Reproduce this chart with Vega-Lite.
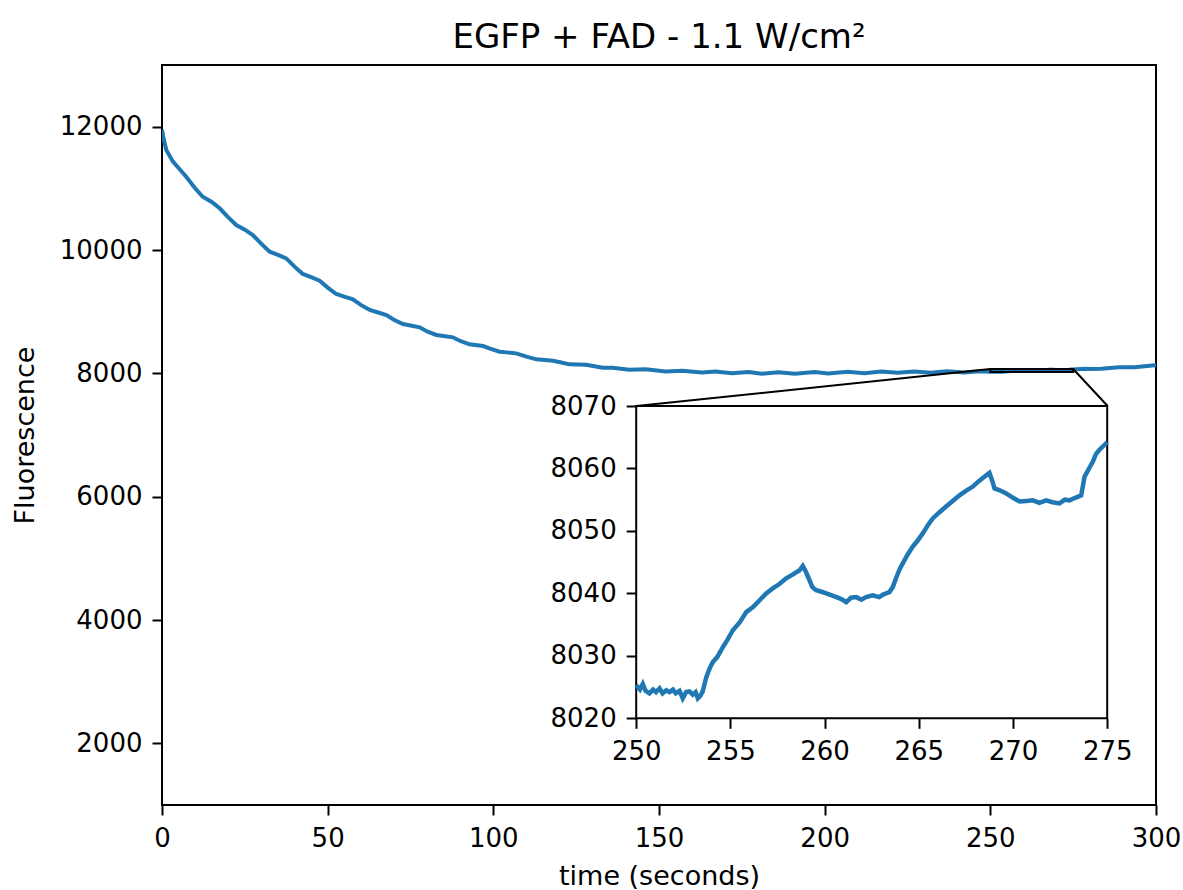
{
  "$schema": "https://vega.github.io/schema/vega-lite/v6.json",
  "width": 994,
  "height": 740,
  "autosize": "none",
  "padding": {"left": 162, "top": 65, "right": 27, "bottom": 85},
  "background": "white",
  "config": {
    "font": "DejaVu Sans",
    "view": {"stroke": "black", "strokeWidth": 2},
    "axis": {
      "grid": false,
      "domain": false,
      "format": "d",
      "tickColor": "black",
      "tickWidth": 2,
      "tickSize": 10,
      "labelColor": "black",
      "labelFont": "DejaVu Sans",
      "labelFontSize": 26,
      "labelFlush": false,
      "labelBound": false,
      "labelOverlap": false,
      "titleColor": "black",
      "titleFont": "DejaVu Sans",
      "titleFontSize": 27,
      "titleFontWeight": "normal"
    }
  },
  "title": {"text": "EGFP + FAD - 1.1 W/cm²", "fontSize": 34, "font": "DejaVu Sans", "fontWeight": "normal", "color": "black", "offset": 10, "anchor": "middle"},
  "data": {"values": [
    {"t": 0, "v": 11950}, {"t": 0.5, "v": 11800}, {"t": 1.3, "v": 11622}, {"t": 3.3, "v": 11432}, {"t": 5, "v": 11330},
    {"t": 7.3, "v": 11189}, {"t": 10, "v": 11000}, {"t": 12.3, "v": 10864}, {"t": 15, "v": 10780}, {"t": 17.4, "v": 10676},
    {"t": 20, "v": 10530}, {"t": 22.4, "v": 10405}, {"t": 25, "v": 10330}, {"t": 27.4, "v": 10243}, {"t": 30, "v": 10100},
    {"t": 32.5, "v": 9973}, {"t": 35, "v": 9920}, {"t": 37.5, "v": 9865}, {"t": 40, "v": 9730}, {"t": 42.5, "v": 9611},
    {"t": 45, "v": 9560}, {"t": 47.6, "v": 9503}, {"t": 50, "v": 9390}, {"t": 52.6, "v": 9286}, {"t": 55, "v": 9245},
    {"t": 57.6, "v": 9200}, {"t": 60, "v": 9110}, {"t": 62.7, "v": 9027}, {"t": 65, "v": 8990}, {"t": 67.7, "v": 8946},
    {"t": 70, "v": 8870}, {"t": 72.7, "v": 8800}, {"t": 75, "v": 8775}, {"t": 77.8, "v": 8746}, {"t": 80, "v": 8680},
    {"t": 82.8, "v": 8622}, {"t": 85, "v": 8605}, {"t": 87.8, "v": 8584}, {"t": 90, "v": 8525}, {"t": 92.8, "v": 8470},
    {"t": 96.9, "v": 8443}, {"t": 99, "v": 8400}, {"t": 101.9, "v": 8351}, {"t": 104, "v": 8340}, {"t": 106.9, "v": 8324},
    {"t": 110, "v": 8270}, {"t": 113, "v": 8227}, {"t": 115.5, "v": 8215}, {"t": 118, "v": 8205}, {"t": 120.5, "v": 8175},
    {"t": 123, "v": 8146}, {"t": 128, "v": 8140}, {"t": 130.5, "v": 8115}, {"t": 133, "v": 8092}, {"t": 136, "v": 8090},
    {"t": 141, "v": 8058}, {"t": 146, "v": 8065}, {"t": 152, "v": 8030}, {"t": 157, "v": 8040}, {"t": 163, "v": 8012},
    {"t": 167, "v": 8030}, {"t": 172, "v": 8000}, {"t": 177, "v": 8020}, {"t": 181, "v": 7992}, {"t": 186, "v": 8018},
    {"t": 191, "v": 7992}, {"t": 197, "v": 8020}, {"t": 201, "v": 7998}, {"t": 207, "v": 8025}, {"t": 212, "v": 8000},
    {"t": 217, "v": 8030}, {"t": 222, "v": 8008}, {"t": 227, "v": 8030}, {"t": 232, "v": 8010}, {"t": 237, "v": 8032},
    {"t": 242, "v": 8015}, {"t": 246, "v": 8030}, {"t": 248.8, "v": 8028}, {"t": 249.5, "v": 8025.8},
    {"t": 250.0, "v": 8025.3}, {"t": 250.2, "v": 8024.6}, {"t": 250.35, "v": 8025.5}, {"t": 250.5, "v": 8024.4},
    {"t": 250.7, "v": 8024.0}, {"t": 250.9, "v": 8024.6}, {"t": 251.05, "v": 8024.2}, {"t": 251.24, "v": 8024.8},
    {"t": 251.4, "v": 8024.0}, {"t": 251.6, "v": 8024.5}, {"t": 251.77, "v": 8024.2}, {"t": 251.95, "v": 8024.6},
    {"t": 252.1, "v": 8024.0}, {"t": 252.3, "v": 8024.4}, {"t": 252.47, "v": 8023.2}, {"t": 252.65, "v": 8024.2},
    {"t": 252.83, "v": 8024.3}, {"t": 253.0, "v": 8023.8}, {"t": 253.15, "v": 8024.2}, {"t": 253.27, "v": 8023.2},
    {"t": 253.4, "v": 8023.6}, {"t": 253.53, "v": 8024.3}, {"t": 253.72, "v": 8026.6}, {"t": 253.9, "v": 8028.0},
    {"t": 254.07, "v": 8029.0}, {"t": 254.3, "v": 8029.8}, {"t": 254.6, "v": 8031.4}, {"t": 254.85, "v": 8032.6},
    {"t": 255.13, "v": 8034.1}, {"t": 255.5, "v": 8035.4}, {"t": 255.84, "v": 8037.0}, {"t": 256.2, "v": 8037.8},
    {"t": 256.55, "v": 8038.9}, {"t": 256.9, "v": 8040.0}, {"t": 257.25, "v": 8040.8}, {"t": 257.6, "v": 8041.5},
    {"t": 257.96, "v": 8042.4}, {"t": 258.3, "v": 8043.0}, {"t": 258.67, "v": 8043.7}, {"t": 258.84, "v": 8044.4},
    {"t": 259.0, "v": 8043.5}, {"t": 259.2, "v": 8042.1}, {"t": 259.35, "v": 8041.0}, {"t": 259.55, "v": 8040.5},
    {"t": 259.8, "v": 8040.3}, {"t": 260.09, "v": 8040.0}, {"t": 260.45, "v": 8039.6}, {"t": 260.8, "v": 8039.2},
    {"t": 261.0, "v": 8038.9}, {"t": 261.15, "v": 8038.6}, {"t": 261.4, "v": 8039.3}, {"t": 261.68, "v": 8039.4},
    {"t": 261.95, "v": 8039.0}, {"t": 262.2, "v": 8039.4}, {"t": 262.55, "v": 8039.7}, {"t": 262.9, "v": 8039.4},
    {"t": 263.1, "v": 8039.8}, {"t": 263.27, "v": 8040.0}, {"t": 263.44, "v": 8040.2}, {"t": 263.62, "v": 8041.0},
    {"t": 263.8, "v": 8042.5}, {"t": 264.0, "v": 8044.0}, {"t": 264.15, "v": 8044.8}, {"t": 264.4, "v": 8046.2},
    {"t": 264.68, "v": 8047.5}, {"t": 264.95, "v": 8048.5}, {"t": 265.21, "v": 8049.6}, {"t": 265.5, "v": 8051.0},
    {"t": 265.74, "v": 8052.0}, {"t": 266.1, "v": 8053.0}, {"t": 266.45, "v": 8053.9}, {"t": 266.8, "v": 8054.8},
    {"t": 267.16, "v": 8055.7}, {"t": 267.5, "v": 8056.4}, {"t": 267.87, "v": 8057.1}, {"t": 268.2, "v": 8058.0},
    {"t": 268.58, "v": 8058.9}, {"t": 268.75, "v": 8059.3}, {"t": 268.9, "v": 8058.0}, {"t": 269.02, "v": 8056.8},
    {"t": 269.3, "v": 8056.5}, {"t": 269.64, "v": 8056.0}, {"t": 270.0, "v": 8055.3}, {"t": 270.35, "v": 8054.7},
    {"t": 270.7, "v": 8054.8}, {"t": 271.05, "v": 8054.9}, {"t": 271.4, "v": 8054.5}, {"t": 271.76, "v": 8054.9},
    {"t": 272.1, "v": 8054.6}, {"t": 272.47, "v": 8054.4}, {"t": 272.75, "v": 8055.0}, {"t": 273.0, "v": 8054.9},
    {"t": 273.3, "v": 8055.3}, {"t": 273.62, "v": 8055.7}, {"t": 273.8, "v": 8058.7}, {"t": 274.0, "v": 8059.8},
    {"t": 274.24, "v": 8061.1}, {"t": 274.4, "v": 8062.3}, {"t": 274.59, "v": 8063.0}, {"t": 274.8, "v": 8063.6},
    {"t": 275.0, "v": 8064.2}, {"t": 276, "v": 8067}, {"t": 278.8, "v": 8075},
    {"t": 280, "v": 8072}, {"t": 283.5, "v": 8074}, {"t": 288.8, "v": 8100}, {"t": 290, "v": 8097},
    {"t": 293.5, "v": 8100}, {"t": 298.8, "v": 8128}, {"t": 300, "v": 8132}
  ]},
  "layer": [
    {
      "layer": [
        {
          "mark": {"type": "line", "color": "#1f77b4", "strokeWidth": 4, "clip": true},
          "encoding": {
            "x": {"field": "t", "type": "quantitative", "scale": {"domain": [0, 300], "nice": false, "zero": false},
                  "axis": {"orient": "bottom", "values": [0, 50, 100, 150, 200, 250, 300], "title": "time (seconds)", "labelPadding": 10, "titlePadding": 12}},
            "y": {"field": "v", "type": "quantitative", "scale": {"domain": [1000, 13000], "nice": false, "zero": false},
                  "axis": {"orient": "left", "values": [2000, 4000, 6000, 8000, 10000, 12000], "title": "Fluorescence", "labelPadding": 10, "titlePadding": 20}}
          }
        },
        {
          "data": {"values": [{}]},
          "mark": {"type": "rect", "fill": null, "fillOpacity": 0, "stroke": "black", "strokeWidth": 2},
          "encoding": {
            "x": {"datum": 250, "type": "quantitative", "axis": {"orient": "bottom", "values": [0, 50, 100, 150, 200, 250, 300], "title": "time (seconds)", "labelPadding": 10, "titlePadding": 12}},
            "x2": {"datum": 275},
            "y": {"datum": 8020, "type": "quantitative", "axis": {"orient": "left", "values": [2000, 4000, 6000, 8000, 10000, 12000], "title": "Fluorescence", "labelPadding": 10, "titlePadding": 20}},
            "y2": {"datum": 8070}
          }
        },
        {
          "data": {"values": [{}]},
          "mark": {"type": "rule", "color": "black", "strokeWidth": 2},
          "encoding": {
            "x": {"datum": 250, "type": "quantitative", "axis": {"orient": "bottom", "values": [0, 50, 100, 150, 200, 250, 300], "title": "time (seconds)", "labelPadding": 10, "titlePadding": 12}},
            "x2": {"datum": 143.2},
            "y": {"datum": 8070, "type": "quantitative", "axis": {"orient": "left", "values": [2000, 4000, 6000, 8000, 10000, 12000], "title": "Fluorescence", "labelPadding": 10, "titlePadding": 20}},
            "y2": {"datum": 7470}
          }
        },
        {
          "data": {"values": [{}]},
          "mark": {"type": "rule", "color": "black", "strokeWidth": 2},
          "encoding": {
            "x": {"datum": 275, "type": "quantitative", "axis": {"orient": "bottom", "values": [0, 50, 100, 150, 200, 250, 300], "title": "time (seconds)", "labelPadding": 10, "titlePadding": 12}},
            "x2": {"datum": 285.4},
            "y": {"datum": 8070, "type": "quantitative", "axis": {"orient": "left", "values": [2000, 4000, 6000, 8000, 10000, 12000], "title": "Fluorescence", "labelPadding": 10, "titlePadding": 20}},
            "y2": {"datum": 7470}
          }
        }
      ]
    },
    {
      "layer": [
        {
          "data": {"values": [{}]},
          "mark": {"type": "rect", "fill": "white", "stroke": "black", "strokeWidth": 2},
          "encoding": {
            "x": {"datum": 250, "type": "quantitative", "scale": {"domain": [250, 275], "range": [474.2, 945.2], "nice": false, "zero": false},
                  "axis": {"orient": "bottom", "offset": -86.7, "values": [250, 255, 260, 265, 270, 275], "title": null, "labelPadding": 10}},
            "x2": {"datum": 275},
            "y": {"datum": 8020, "type": "quantitative", "scale": {"domain": [8020, 8070], "range": [653.3, 341], "nice": false, "zero": false},
                  "axis": {"orient": "left", "offset": -474.2, "values": [8020, 8030, 8040, 8050, 8060, 8070], "title": null, "labelPadding": 10}},
            "y2": {"datum": 8070}
          }
        },
        {
          "transform": [{"filter": "datum.t >= 250 && datum.t <= 275"}],
          "mark": {"type": "line", "color": "#1f77b4", "strokeWidth": 4.5},
          "encoding": {
            "x": {"field": "t", "type": "quantitative", "scale": {"domain": [250, 275], "range": [474.2, 945.2], "nice": false, "zero": false},
                  "axis": {"orient": "bottom", "offset": -86.7, "values": [250, 255, 260, 265, 270, 275], "title": null, "labelPadding": 10}},
            "y": {"field": "v", "type": "quantitative", "scale": {"domain": [8020, 8070], "range": [653.3, 341], "nice": false, "zero": false},
                  "axis": {"orient": "left", "offset": -474.2, "values": [8020, 8030, 8040, 8050, 8060, 8070], "title": null, "labelPadding": 10}}
          }
        }
      ]
    }
  ],
  "resolve": {"scale": {"x": "independent", "y": "independent"}, "axis": {"x": "independent", "y": "independent"}}
}
